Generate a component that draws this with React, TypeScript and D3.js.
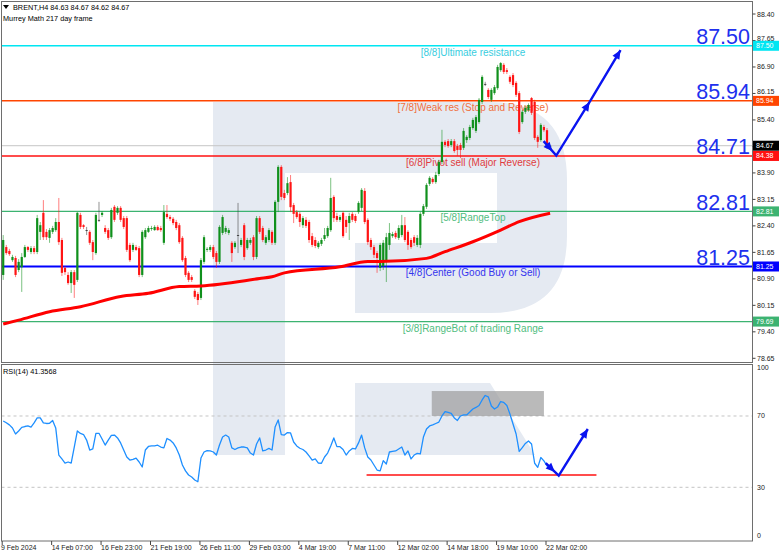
import React from "react";
import * as d3 from "d3";

// ---------- DATA ----------
// H4 candles: [open, high, low, close]
const candles: [number, number, number, number][] = [
  [81.01,82.14,80.87,82.00],[81.80,81.86,81.58,81.63],[81.69,81.75,81.55,81.60],[81.43,81.58,81.38,81.52],[81.49,81.55,80.95,81.01],
  [81.15,81.46,81.09,81.38],[81.23,81.63,80.53,81.52],[81.52,81.86,81.49,81.80],[81.80,81.83,81.66,81.72],[81.66,81.83,81.60,81.77],
  [81.77,81.83,81.60,81.66],[81.66,82.71,81.60,82.62],[82.23,82.51,82.00,82.42],[82.77,83.13,82.00,82.08],[82.23,82.31,82.00,82.08],
  [82.06,82.34,81.92,82.28],[82.23,82.40,82.17,82.34],[82.28,82.62,82.23,82.51],[82.51,83.19,81.86,81.94],[82.00,82.06,80.98,81.07],
  [81.21,81.26,81.01,81.09],[81.01,81.09,80.73,80.78],[80.78,81.15,80.50,81.09],[81.09,81.15,80.36,80.73],[80.87,82.79,80.81,82.77],
  [82.71,82.77,82.31,82.37],[82.42,82.45,82.31,82.37],[82.28,82.37,82.14,82.28],[82.23,82.28,81.86,81.92],[81.94,82.00,81.43,81.66],
  [81.63,82.77,81.58,82.71],[82.57,83.08,82.51,82.57],[82.71,82.82,82.65,82.77],[82.34,82.42,82.17,82.23],[82.28,82.34,82.00,82.06],
  [82.08,82.91,82.03,82.85],[82.94,82.99,82.51,82.57],[82.77,82.96,82.71,82.91],[82.91,82.96,82.51,82.57],[82.62,82.68,82.31,82.37],
  [82.62,82.68,81.66,81.72],[81.86,81.92,81.38,81.43],[81.72,81.92,81.66,81.86],[81.80,81.86,81.69,81.72],[81.77,81.83,80.95,81.01],
  [81.01,82.28,80.95,82.23],[82.08,82.34,82.03,82.28],[82.23,82.40,82.20,82.34],[82.31,82.40,82.26,82.34],[82.28,82.42,82.26,82.37],
  [82.37,82.42,82.26,82.28],[82.34,82.40,82.23,82.28],[81.92,82.99,81.86,82.79],[82.74,82.99,82.60,82.65],[82.65,82.71,82.54,82.60],
  [82.60,82.65,82.42,82.48],[82.51,82.57,82.28,82.34],[82.42,82.48,81.89,81.94],[82.06,82.11,81.38,81.43],[81.49,81.55,80.95,81.01],
  [81.07,81.12,80.81,80.87],[80.95,81.01,80.81,80.87],[80.56,80.61,80.33,80.39],[80.47,80.53,80.16,80.30],[80.36,81.49,80.30,81.43],
  [81.38,82.14,81.32,82.08],[81.72,81.80,81.66,81.75],[81.72,81.86,81.66,81.80],[81.80,81.86,81.46,81.52],[81.63,81.69,81.21,81.38],
  [81.38,82.42,81.32,82.37],[82.20,82.71,82.14,82.65],[82.23,82.40,82.17,82.34],[82.20,82.34,82.14,82.28],[81.92,81.97,81.38,81.63],
  [81.80,81.97,81.75,81.92],[82.14,83.05,81.63,82.14],[81.86,82.06,81.80,82.00],[82.42,82.48,81.43,81.52],[81.77,82.06,81.72,82.00],
  [81.92,82.06,81.86,82.00],[82.08,82.14,81.43,81.52],[81.52,82.68,81.46,82.62],[82.62,82.68,82.17,82.23],[82.34,82.40,81.94,82.00],
  [81.92,82.14,81.86,82.08],[82.00,82.34,81.94,82.28],[82.23,82.28,81.86,81.92],[81.92,83.13,81.86,83.08],[83.08,84.12,82.79,84.07],
  [84.07,84.12,83.13,83.22],[83.33,83.42,83.13,83.19],[83.33,83.78,83.27,83.61],[83.64,83.84,82.79,82.93],[82.99,83.05,82.48,82.74],
  [82.79,82.85,82.60,82.65],[82.74,82.79,82.37,82.51],[82.42,82.68,82.34,82.62],[82.57,82.65,82.34,82.40],[82.51,82.57,81.92,82.00],
  [82.11,82.20,81.80,81.86],[82.00,82.08,81.77,81.83],[81.80,81.97,81.75,81.92],[81.89,82.06,81.83,82.00],[82.03,82.34,81.97,82.14],
  [82.11,82.40,82.06,82.34],[82.28,83.76,82.23,83.19],[83.22,83.27,82.51,82.62],[82.68,82.77,82.51,82.57],[82.57,82.71,82.51,82.65],
  [82.77,82.82,82.06,82.11],[82.57,82.68,82.20,82.37],[82.48,82.77,82.00,82.68],[82.74,82.79,82.51,82.57],[82.68,82.74,82.48,82.54],
  [82.79,83.10,82.74,83.05],[82.91,83.47,82.82,83.42],[83.39,83.47,82.45,82.51],[82.57,82.62,81.86,81.94],[82.00,82.06,81.72,81.80],
  [81.80,81.86,81.49,81.58],[81.63,81.69,81.07,81.49],[81.21,81.92,81.12,81.86],[81.26,82.00,81.15,81.92],[81.38,82.20,80.81,82.08],
  [81.86,82.48,81.72,82.20],[82.11,82.23,82.06,82.17],[82.20,82.26,82.03,82.08],[82.06,82.42,82.00,82.34],[82.14,82.71,82.08,82.42],
  [82.42,82.65,81.94,82.00],[82.23,82.28,81.72,81.86],[82.00,82.06,81.75,81.80],[82.08,82.14,81.83,81.92],[81.86,82.14,81.80,82.06],
  [81.86,82.79,81.77,82.74],[82.74,83.02,82.68,82.96],[82.94,83.61,82.88,83.56],[83.59,83.81,83.53,83.76],[83.73,83.78,83.59,83.64],
  [83.64,83.93,83.59,83.84],[83.87,84.27,83.81,84.21],[84.21,85.12,84.15,84.78],[84.78,84.83,84.63,84.69],[84.80,84.86,84.61,84.66],
  [84.69,84.86,84.63,84.80],[84.80,84.86,84.47,84.52],[84.66,84.72,84.38,84.55],[84.69,84.75,84.32,84.55],[84.61,85.17,84.55,85.09],
  [84.83,84.97,84.75,84.92],[84.89,85.26,84.83,85.20],[85.17,85.46,85.12,85.40],[85.09,85.54,85.03,85.48],[85.34,86.02,85.29,85.97],
  [85.91,86.67,85.85,86.62],[86.42,86.48,86.36,86.42],[86.25,86.30,85.99,86.05],[85.97,86.30,85.91,86.25],[86.16,86.39,86.11,86.33],
  [86.30,86.96,86.25,86.90],[86.81,87.04,86.76,87.01],[86.96,87.01,86.70,86.76],[86.81,86.87,86.70,86.76],[86.62,86.67,86.42,86.48],
  [86.67,86.73,86.33,86.39],[86.45,86.50,86.05,86.11],[86.16,86.22,85.00,85.06],[85.34,85.68,85.29,85.63],[85.63,85.80,85.57,85.74],
  [85.68,85.87,85.63,85.82],[86.02,86.05,85.54,85.60],[85.91,85.97,84.83,84.89],[84.92,84.97,84.61,84.78],[84.83,85.31,84.78,85.26],
  [85.20,85.26,85.06,85.11],[85.11,85.17,84.58,84.63],[84.63,84.67,84.62,84.67],
];

// 217-period moving average, read at sample bars
const maBars = [0, 5, 15, 25, 38, 47, 57, 64, 83, 87, 91, 109, 118, 122, 137, 143, 152, 161, 167, 177];
const maValues = [79.62, 79.73, 79.97, 80.11, 80.40, 80.49, 80.68, 80.70, 80.91, 80.96, 81.07, 81.24, 81.39, 81.39, 81.48, 81.67, 81.95, 82.28, 82.52, 82.76];

// RSI(14), one value per bar
const rsiValues = [
  67.2,66.2,65.0,63.3,59.9,61.6,63.6,64.1,64.4,63.8,
  66.1,68.9,68.9,66.1,65.8,65.9,67.5,63.3,48.1,45.9,
  43.6,44.2,43.6,52.6,61.6,60.2,59.6,56.5,50.9,51.5,
  60.3,60.3,57.1,53.7,56.5,59.1,59.3,57.7,54.9,50.9,
  47.0,45.3,45.7,46.4,44.2,41.4,50.9,52.9,53.2,53.2,
  53.6,52.6,52.1,57.4,56.5,54.9,52.1,48.1,42.5,39.2,
  36.9,35.8,34.1,33.1,46.4,49.8,50.6,50.4,49.8,48.1,
  53.7,58.2,59.3,58.2,52.1,51.2,52.1,52.6,52.6,52.1,
  49.2,48.1,54.3,57.7,50.4,50.9,51.8,50.9,63.8,67.8,
  59.6,59.3,60.7,60.5,55.4,53.2,51.9,51.2,49.8,47.6,
  45.3,45.9,43.6,43.5,47.0,49.2,53.2,57.7,52.8,52.8,
  51.2,48.1,50.4,51.8,51.5,54.9,59.3,52.1,47.0,45.3,
  42.5,39.7,39.2,45.0,43.1,49.8,50.1,50.4,51.5,52.6,
  48.1,50.4,45.9,48.1,49.0,48.7,58.2,62.7,64.4,65.0,
  65.8,66.6,70.0,72.4,72.0,71.5,68.9,67.5,70.0,70.6,
  70.6,72.2,73.9,74.8,75.9,79.0,81.5,80.7,75.6,73.9,
  75.0,78.1,77.6,75.9,71.1,65.5,59.9,50.1,52.3,54.6,
  56.0,54.3,43.5,41.2,46.7,44.8,42.0,41.36,
];

// Murrey Math levels
const levelPrices = [87.5, 85.94, 84.38, 82.81, 81.25, 79.69];
const levelNames = [
  "[8/8]Ultimate resistance",
  "[7/8]Weak res (Stop and Reverse)",
  "[6/8]Pivot sell (Major Reverse)",
  "[5/8]RangeTop",
  "[4/8]Center (Good Buy or Sell)",
  "[3/8]RangeBot of trading Range",
];
const levelBigLabels = ["87.50", "85.94", "84.71", "82.81", "81.25", ""];
const levelTags = ["87.50", "85.94", "84.38", "82.81", "81.25", "79.69"];

const priceTicks = [88.4, 87.65, 86.9, 86.15, 85.4, 84.65, 83.9, 83.15, 82.4, 81.65, 80.9, 80.15, 79.4, 78.65];
const rsiTicks = [100, 70, 30, 0];
const timeTickBars = [0, 16, 32, 48, 64, 80, 96, 112, 128, 144, 160, 176];
const timeLabels = [
  "9 Feb 2024", "14 Feb 07:00", "16 Feb 23:00", "21 Feb 19:00", "26 Feb 11:00", "29 Feb 03:00",
  "4 Mar 19:00", "7 Mar 11:00", "12 Mar 02:00", "14 Mar 18:00", "19 Mar 10:00", "22 Mar 02:00",
];
const lastPrice = 84.67;
const headerText = "BRENT,H4  84.63 84.67 84.62 84.67";
const subHeaderText = "Murrey Math 217 day frame";
const rsiLabel = "RSI(14) 41.3568";

// drawn annotations (bar index, value)
const priceArrow: [number, number][] = [[174.9, 84.8], [179, 84.39], [189.8, 85.91], [199.8, 87.38]];
const rsiArrow: [number, number][] = [[175.6, 43.6], [179.8, 36.5], [189.2, 62.7]];
const rsiSupport: [number, number][] = [[117.6, 36.9], [192, 36.9]];
const rsiBoxBars = [138.7, 175];
const rsiBoxValues = [70, 84];

// ---------- STYLE ----------
const FONT = "'Liberation Sans', Arial, sans-serif";
const levelColors = ["#00e6f2", "#ff4500", "#ff1010", "#3cb371", "#0000ff", "#3cb371"];
const levelTextColors = ["#38cde0", "#f0703e", "#e03c40", "#52bd80", "#3535ee", "#52bd80"];
const levelWidths = [1.5, 1.5, 1.5, 1.3, 2, 1.3];
const BULL = "#10901c";
const BEAR = "#ff1414";

function arrowHead(ax: number, ay: number, bx: number, by: number, len = 9, half = 4) {
  const dx = bx - ax, dy = by - ay;
  const d = Math.hypot(dx, dy) || 1;
  const ux = dx / d, uy = dy / d;
  const px = -uy, py = ux;
  const baseX = bx - ux * len, baseY = by - uy * len;
  return `M${bx},${by}L${baseX + px * half},${baseY + py * half}L${baseX - px * half},${baseY - py * half}Z`;
}

export default function App() {
  const L = 1.5, R = 752.5, mainTop = 1.5, mainBot = 362.5, rsiTop = 364.5, rsiBot = 541;
  const x = d3.scaleLinear().domain([0, 177]).range([3.2, 550.1]);
  const y = d3.scaleLinear().domain([78.65, 88.4]).range([358.3, 14]);
  const yr = d3.scaleLinear().domain([0, 100]).range([540.8, 362.5]);

  const maLine = d3.line<number>()
    .x((_, i) => x(maBars[i]))
    .y((d) => y(d))
    .curve(d3.curveMonotoneX)(maValues) || "";
  const rsiLine = d3.line<number>()
    .x((_, i) => x(i))
    .y((d) => yr(d))(rsiValues) || "";

  const pa = priceArrow.map(([b, v]) => [x(b), y(v)] as [number, number]);
  const ra = rsiArrow.map(([b, v]) => [x(b), yr(v)] as [number, number]);
  const tip = (p0: [number, number], p1: [number, number]) =>
    [p0[0] + 0.7 * (p1[0] - p0[0]), p0[1] + 0.7 * (p1[1] - p0[1])] as [number, number];
  const pTip = tip(pa[0], pa[1]);
  const rTip = tip(ra[0], ra[1]);

  const tagYs = [...levelPrices, lastPrice].map((p) => y(p));
  const wm = "#e5eaf2";

  return (
    <svg width={782} height={557} style={{ position: "absolute", left: 0, top: 0, background: "#fff" }} fontFamily={FONT}>
      <defs>
        <clipPath id="mainClip"><rect x={L} y={mainTop} width={R - L} height={mainBot - mainTop} /></clipPath>
        <clipPath id="rsiClip"><rect x={L} y={rsiTop} width={R - L} height={rsiBot - rsiTop} /></clipPath>
      </defs>
      <rect x={0} y={0} width={782} height={557} fill="#fff" />

      {/* watermark logo */}
      <path d="M213,102 H490 Q567,102 567,180 V236 Q567,313 490,313 H355 V243 H497 V173 H285 V455 H213 Z" fill={wm} />
      <path d="M355,383 H490 L535,455 H355 Z" fill={wm} />

      {/* ---------- MAIN PANEL ---------- */}
      <g clipPath="url(#mainClip)">
        {levelNames.map((name, i) => (
          <text key={"lt" + i} x={473} y={y(levelPrices[i]) + 10} fontSize={10} fill={levelTextColors[i]} textAnchor="middle">{name}</text>
        ))}
        {levelPrices.map((p, i) => (
          <line key={"lv" + i} x1={L} x2={R} y1={y(p)} y2={y(p)} stroke={levelColors[i]} strokeWidth={levelWidths[i]} />
        ))}
        <line x1={L} x2={R} y1={y(lastPrice)} y2={y(lastPrice)} stroke="#c6c6c6" strokeWidth={1} />

        {candles.map(([o, h, l, c], i) => {
          const col = c > o ? BULL : c < o ? BEAR : "#3a3a3a";
          const top = y(Math.max(o, c));
          const bh = Math.max(0.9, Math.abs(y(o) - y(c)));
          const cx = x(i);
          return (
            <g key={"c" + i}>
              <line x1={cx} x2={cx} y1={y(h)} y2={y(l)} stroke={col} strokeWidth={1} strokeOpacity={0.55} />
              <rect x={cx - 1.1} y={top} width={2.2} height={bh} fill={col} />
            </g>
          );
        })}

        <path d={maLine} fill="none" stroke="#ff0000" strokeWidth={3} strokeLinejoin="round" />

        {levelBigLabels.map((t, i) => t ? (
          <text key={"bl" + i} x={750} y={y(levelPrices[i]) - 1.5} fontSize={21.5} fill="#2030ee" textAnchor="end">{t}</text>
        ) : null)}

        {/* price arrow */}
        <polyline points={pa.map((p) => p.join(",")).join(" ")} fill="none" stroke="#0a14f0" strokeWidth={2.4} />
        <path d={arrowHead(pa[0][0], pa[0][1], pTip[0], pTip[1])} fill="#0a14f0" />
        <path d={arrowHead(pa[1][0], pa[1][1], pa[2][0], pa[2][1])} fill="#0a14f0" />
        <path d={arrowHead(pa[2][0], pa[2][1], pa[3][0], pa[3][1])} fill="#0a14f0" />

        <path d="M3,5 L9,5 L6,9 Z" fill="#000" />
        <text x={13} y={10} fontSize={7.3} fill="#000">{headerText}</text>
        <text x={3} y={21} fontSize={7.3} fill="#000">{subHeaderText}</text>
      </g>

      {/* ---------- RSI PANEL ---------- */}
      <g clipPath="url(#rsiClip)">
        {[70, 30].map((v) => (
          <line key={"rl" + v} x1={L} x2={R} y1={yr(v)} y2={yr(v)} stroke="#c4c4c4" strokeDasharray="3,3" strokeWidth={1} />
        ))}
        <rect x={x(rsiBoxBars[0])} y={yr(rsiBoxValues[1])} width={x(rsiBoxBars[1]) - x(rsiBoxBars[0])}
          height={yr(rsiBoxValues[0]) - yr(rsiBoxValues[1])} fill="#9a9a9a" fillOpacity={0.68} />
        <path d={rsiLine} fill="none" stroke="#1e8fff" strokeWidth={1.3} strokeLinejoin="round" />
        <line x1={x(rsiSupport[0][0])} x2={x(rsiSupport[1][0])} y1={yr(rsiSupport[0][1])} y2={yr(rsiSupport[1][1])} stroke="#ff1010" strokeWidth={1.6} />
        <polyline points={ra.map((p) => p.join(",")).join(" ")} fill="none" stroke="#0a14f0" strokeWidth={2.4} />
        <path d={arrowHead(ra[0][0], ra[0][1], rTip[0], rTip[1])} fill="#0a14f0" />
        <path d={arrowHead(ra[1][0], ra[1][1], ra[2][0], ra[2][1])} fill="#0a14f0" />
        <text x={3} y={374} fontSize={7.3} fill="#000">{rsiLabel}</text>
      </g>

      {/* frames */}
      <rect x={L} y={mainTop} width={R - L} height={mainBot - mainTop} fill="none" stroke="#6e6e6e" strokeWidth={1} />
      <rect x={L} y={rsiTop} width={R - L} height={rsiBot - rsiTop} fill="none" stroke="#6e6e6e" strokeWidth={1} />

      {/* price axis */}
      {priceTicks.map((p) => {
        const ty = y(p);
        const hidden = tagYs.some((t) => Math.abs(t - ty) < 3);
        const nudge = tagYs.some((t) => t - ty > 3 && t - ty < 8) ? -2.2 : 0;
        return (
          <g key={"pt" + p}>
            <line x1={R} x2={R + 3} y1={ty} y2={ty} stroke="#444" />
            {hidden ? null : <text x={757} y={ty + 2.5 + nudge} fontSize={7} fill="#222">{p.toFixed(2)}</text>}
          </g>
        );
      })}
      {levelTags.map((t, i) => (
        <g key={"tag" + i}>
          <rect x={753} y={y(levelPrices[i]) - 5} width={26} height={10} fill={levelColors[i]} />
          <text x={756} y={y(levelPrices[i]) + 2.5} fontSize={7} fill="#fff">{t}</text>
        </g>
      ))}
      <rect x={753} y={y(lastPrice) - 5} width={26} height={10} fill="#000" />
      <text x={756} y={y(lastPrice) + 2.5} fontSize={7} fill="#fff">{lastPrice.toFixed(2)}</text>

      {/* RSI axis */}
      {rsiTicks.map((v) => {
        const yy = v === 100 ? yr(v) + 5 : v === 0 ? yr(v) - 5.5 : yr(v);
        return <text key={"rt" + v} x={757} y={yy + 2.5} fontSize={7} fill="#222">{v}</text>;
      })}

      {/* time axis */}
      {timeTickBars.map((b, i) => (
        <g key={"tt" + b}>
          <line x1={x(b) - 1} x2={x(b) - 1} y1={rsiBot} y2={rsiBot + 4} stroke="#444" />
          <text x={i === 0 ? 1 : x(b) - 1} y={550} fontSize={7} fill="#222">{timeLabels[i]}</text>
        </g>
      ))}
    </svg>
  );
}
